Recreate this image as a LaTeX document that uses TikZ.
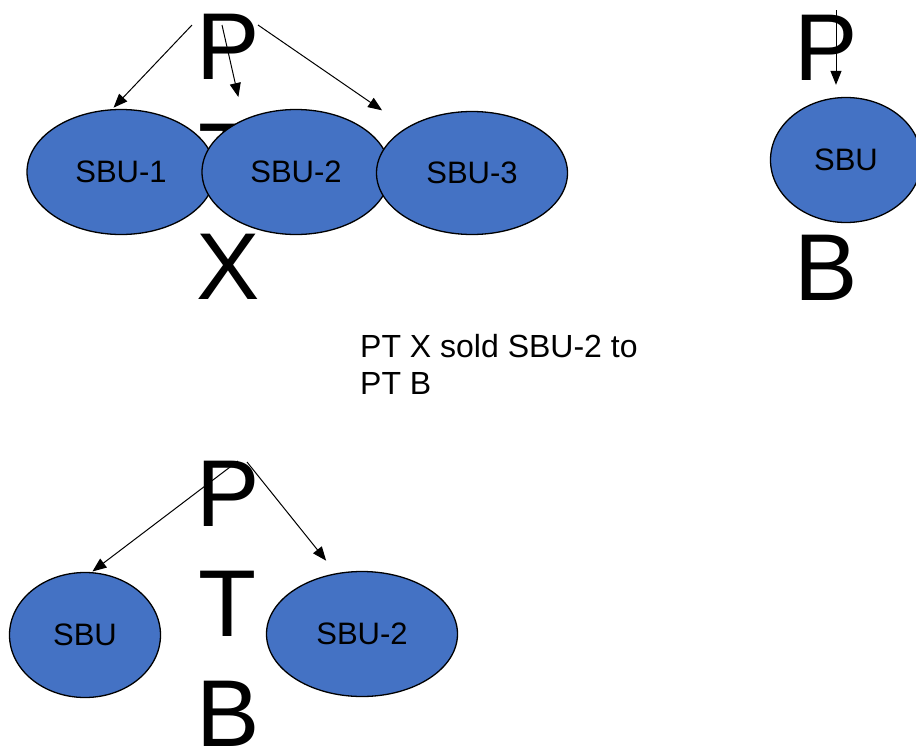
\documentclass[tikz,border=0pt]{standalone}
\usepackage{fontspec}
\setmainfont{Liberation Sans}
\usetikzlibrary{arrows.meta,shapes.geometric}
\definecolor{sbublue}{RGB}{68, 114, 196}

\begin{document}
\begin{tikzpicture}[x=1pt, y=-1pt,
    sbu/.style={ellipse, draw=black, line width=1.3pt, fill=sbublue, inner sep=0pt, font=\fontsize{31}{36}\selectfont},
    bigletters/.style={align=center, inner sep=0pt, anchor=north, font=\fontsize{95}{110}\selectfont},
    link/.style={-{Triangle[length=14pt,width=11pt]}, line width=1pt}]
    \useasboundingbox (0,0) rectangle (916,750);

    % company letters (drawn first, the units cover them)
    \node[bigletters] (ptx) at (228,14) {P\\T\\X};
    \node[bigletters] (ptb) at (826,15) {P\\T\\B};
    \node[bigletters] (ptbnew) at (228,461) {P\\T\\B};

    % PT X and its units
    \node[sbu, minimum width=188pt, minimum height=125pt] (sbu1) at (121,172) {SBU-1};
    \node[sbu, minimum width=188pt, minimum height=125pt] (sbu2) at (296,172) {SBU-2};
    \node[sbu, minimum width=191pt, minimum height=123pt] (sbu3) at (472,173) {SBU-3};
    \coordinate (x1) at (192,25);
    \coordinate (x2) at (222,25);
    \coordinate (x3) at (258,25);
    \draw[link, shorten >=2pt] (x1) -- (sbu1.98);
    \draw[link, shorten >=23pt] (x2) -- (sbu2.135);
    \draw[link, shorten >=30pt] (x3) -- (sbu3.145);

    % PT B before the sale
    \node[sbu, minimum width=151pt, minimum height=125pt] (sbub) at (846,160) {SBU};
    \coordinate (b1) at (836,10);
    \draw[link, shorten >=12pt] (b1) -- (b1 |- sbub.north);

    % the sale
    \node[align=left, anchor=north west, inner sep=0pt, font=\fontsize{32}{37}\selectfont] (sale) at (360,334) {PT X sold SBU-2 to\\PT B};

    % PT B after the sale
    \node[sbu, minimum width=151pt, minimum height=125pt] (sbuold) at (85,635) {SBU};
    \node[sbu, minimum width=191pt, minimum height=125pt] (sbunew) at (362,634) {SBU-2};
    \coordinate (n1) at (238,461);
    \coordinate (n2) at (247,462);
    \draw[link, shorten >=1pt] (n1) -- (sbuold.84);
    \draw[link, shorten >=16pt] (n2) -- (sbunew.113);
\end{tikzpicture}
\end{document}
